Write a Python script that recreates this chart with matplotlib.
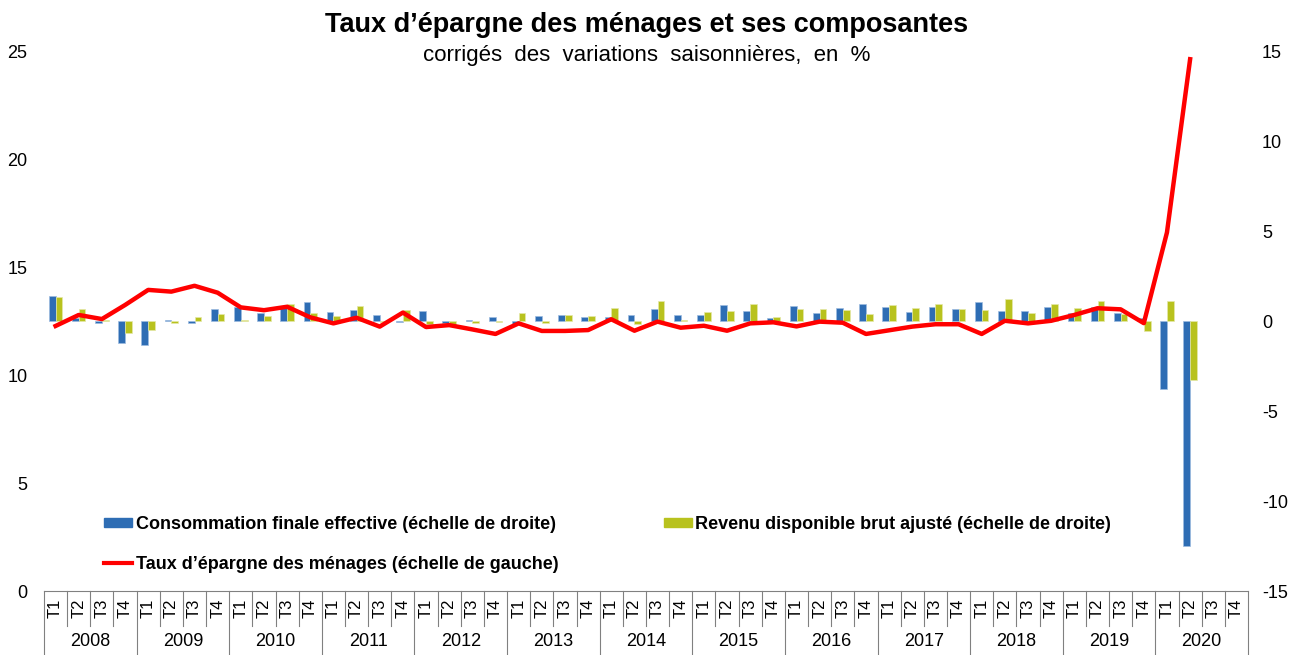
import matplotlib
matplotlib.use("Agg")
import matplotlib.pyplot as plt
from matplotlib.patches import Patch
from matplotlib.lines import Line2D
import numpy as np

plt.rcParams['font.family'] = ['Liberation Sans', 'DejaVu Sans']
plt.rcParams['axes.unicode_minus'] = False

years = [str(y) for y in range(2008, 2021)]
quarters = ["T1", "T2", "T3", "T4"]

# Taux d'épargne (échelle de gauche), 2008T1 .. 2020T2
taux = [12.27, 12.78, 12.59, 13.24,
        13.94, 13.86, 14.13, 13.81,
        13.13, 13.00, 13.16, 12.67,
        12.39, 12.65, 12.24, 12.89,
        12.22, 12.31, 12.11, 11.90,
        12.39, 12.04, 12.04, 12.08,
        12.58, 12.05, 12.47, 12.19,
        12.28, 12.05, 12.39, 12.44,
        12.25, 12.47, 12.42, 11.90,
        12.07, 12.24, 12.35, 12.35,
        11.90, 12.51, 12.39, 12.51,
        12.78, 13.09, 13.04, 12.40,
        16.60, 24.62]

# Consommation finale effective (échelle de droite)
conso = [1.40, 0.15, -0.10, -1.24,
         -1.35, 0.05, -0.10, 0.67,
         0.80, 0.42, 0.70, 1.04,
         0.52, 0.61, 0.35, -0.05,
         0.56, -0.12, 0.07, 0.24,
         -0.17, 0.28, 0.33, 0.24,
         0.22, 0.35, 0.65, 0.35,
         0.33, 0.89, 0.56, 0.15,
         0.83, 0.43, 0.70, 0.93,
         0.80, 0.50, 0.80, 0.67,
         1.07, 0.56, 0.56, 0.80,
         0.46, 0.76, 0.47, 0.14,
         -3.78, -12.50]

# Revenu disponible brut ajusté (échelle de droite)
revenu = [1.31, 0.65, 0.05, -0.69,
          -0.50, -0.10, 0.24, 0.39,
          0.05, 0.30, 0.94, 0.46,
          0.30, 0.83, -0.05, 0.61,
          -0.19, -0.15, -0.10, -0.05,
          0.43, -0.10, 0.33, 0.28,
          0.70, -0.17, 1.10, 0.05,
          0.52, 0.56, 0.93, 0.20,
          0.67, 0.67, 0.61, 0.39,
          0.89, 0.70, 0.93, 0.67,
          0.61, 1.22, 0.43, 0.93,
          0.70, 1.11, 0.38, -0.58,
          1.09, -3.25]

n_slots = len(years) * len(quarters)
blue = "#2E6DB4"
green = "#B8C21E"
red = "#FF0000"

fig = plt.figure(figsize=(12.94, 6.55), dpi=100)
ax = fig.add_axes([44/1294, 64/655, (1248-44)/1294, 540/655])
x = np.arange(len(conso))
w = 0.29
ax.bar(x - w/2, conso, width=w, color=blue, edgecolor="#9DBCE0", linewidth=0.5, zorder=2)
ax.bar(x + w/2, revenu, width=w, color=green, edgecolor="#E4E8A8", linewidth=0.5, zorder=2)
ax.set_ylim(-15, 15)
ax.set_xlim(-0.5, n_slots - 0.5)
for s in ax.spines.values():
    s.set_visible(False)
ax.set_xticks([])

ax2 = ax.twinx()
ax2.plot(np.arange(len(taux)), taux, color=red, lw=3.2, zorder=3, solid_joinstyle='round')
ax2.set_ylim(0, 25)
ax2.set_xlim(-0.5, n_slots - 0.5)
ax2.set_xticks([])
for s in ax2.spines.values():
    s.set_visible(False)

# swap sides: bars (right scale), line (left scale)
ax.yaxis.tick_right()
ax.set_yticks(range(-15, 16, 5))
ax.tick_params(axis='y', which='both', left=False, labelleft=False, right=False,
               labelright=True, length=0, pad=10, labelsize=13)
ax2.yaxis.tick_left()
ax2.set_yticks(range(0, 26, 5))
ax2.tick_params(axis='y', which='both', right=False, labelright=False, left=False,
                labelleft=True, length=0, pad=12, labelsize=13)

# category table under the axis
trans = ax.get_xaxis_transform()
line_kw = dict(color="#808080", lw=0.8, clip_on=False, transform=trans)
ax.plot([-0.5, n_slots - 0.5], [0, 0], **line_kw)
q_bot = -35/540
y_bot = -64/540
for i in range(n_slots + 1):
    xb = i - 0.5
    if i % 4 == 0:
        ax.plot([xb, xb], [0, y_bot], **line_kw)
    else:
        ax.plot([xb, xb], [0, q_bot], **line_kw)
for i in range(n_slots):
    ax.text(i, -17/540, quarters[i % 4], rotation=90, ha='center', va='center',
            fontsize=12, transform=trans, clip_on=False)
for j, yr in enumerate(years):
    ax.text(j*4 + 1.5, -50/540, yr, ha='center', va='center', fontsize=13,
            transform=trans, clip_on=False)

fig.text(0.5, 1 - 25/655, "Taux d\u2019épargne des ménages et ses composantes",
         ha='center', va='center', fontsize=19.5, fontweight='bold')
fig.text(0.5, 1 - 55/655, "corrigés  des  variations  saisonnières,  en  %",
         ha='center', va='center', fontsize=16)

handles = [Patch(color=blue), Line2D([], [], color=red, lw=3), Patch(color=green)]
labels = ["Consommation finale effective (échelle de droite)",
          "Taux d\u2019épargne des ménages (échelle de gauche)",
          "Revenu disponible brut ajusté (échelle de droite)"]
leg = ax2.legend(handles, labels, ncol=2, loc='upper left',
                 bbox_to_anchor=(95/1294, 1 - 507/655), bbox_transform=fig.transFigure,
                 frameon=False, prop={'weight': 'bold', 'size': 13}, borderpad=0,
                 handlelength=1.55, handleheight=0.45, handletextpad=0.2,
                 columnspacing=5.85, labelspacing=1.25)

fig.savefig("out.png", dpi=100)
